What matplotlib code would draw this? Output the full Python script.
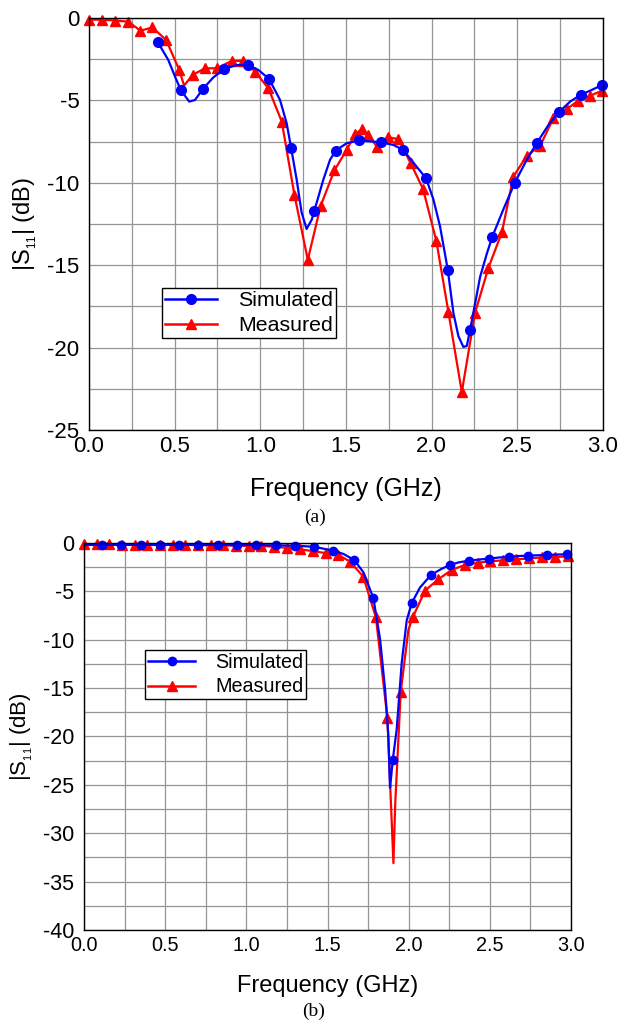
import matplotlib
matplotlib.use("Agg")
import matplotlib.pyplot as plt
from matplotlib.lines import Line2D
from matplotlib.ticker import MultipleLocator

plt.rcParams['font.family'] = ['Liberation Sans', 'DejaVu Sans']
plt.rcParams['mathtext.fontset'] = 'custom'
plt.rcParams['mathtext.rm'] = 'Liberation Sans'
plt.rcParams['mathtext.it'] = 'Liberation Sans'

# ---- panel (a) data ----
a_sim_f = [0.40, 0.463, 0.502, 0.535, 0.585, 0.619, 0.665, 0.726, 0.79, 0.862, 0.926,
           0.988, 1.05, 1.115, 1.154, 1.18, 1.212, 1.241, 1.27, 1.30, 1.315, 1.368,
           1.407, 1.44, 1.504, 1.576, 1.706, 1.776, 1.833, 1.903, 1.967, 2.01, 2.049,
           2.094, 2.127, 2.156, 2.185, 2.205, 2.224, 2.283, 2.322, 2.354, 2.419, 2.485,
           2.555, 2.613, 2.681, 2.744, 2.808, 2.872, 2.935, 2.995]
a_sim_db = [-1.43, -2.55, -3.55, -4.36, -5.07, -4.97, -4.3, -3.6, -3.09, -2.85, -2.85,
            -3.15, -3.68, -4.97, -6.4, -7.9, -9.8, -11.8, -12.8, -12.24, -11.7, -9.8,
            -8.6, -8.04, -7.6, -7.42, -7.54, -7.7, -8.0, -8.9, -9.72, -11.0, -12.65,
            -15.27, -17.9, -19.3, -19.96, -19.9, -18.95, -15.7, -14.3, -13.27, -11.6, -10.0,
            -8.6, -7.6, -6.5, -5.7, -5.07, -4.65, -4.36, -4.06]
a_sim_mk_f = [0.40, 0.535, 0.665, 0.79, 0.926, 1.05, 1.18, 1.315, 1.44, 1.576, 1.706,
              1.833, 1.967, 2.094, 2.224, 2.354, 2.485, 2.613, 2.744, 2.872, 2.995]
a_sim_mk_db = [-1.43, -4.36, -4.3, -3.09, -2.85, -3.68, -7.9, -11.7, -8.04, -7.42, -7.54,
               -8.0, -9.72, -15.27, -18.95, -13.27, -10.0, -7.6, -5.7, -4.65, -4.06]

a_mea_f = [0.0, 0.077, 0.154, 0.23, 0.30, 0.37, 0.45, 0.527, 0.555, 0.605, 0.677, 0.745,
           0.833, 0.90, 0.969, 1.047, 1.125, 1.199, 1.277, 1.352, 1.432, 1.504, 1.553,
           1.592, 1.63, 1.68, 1.744, 1.806, 1.877, 1.95, 2.028, 2.098, 2.176, 2.253,
           2.331, 2.41, 2.477, 2.555, 2.633, 2.71, 2.788, 2.856, 2.925, 2.993]
a_mea_db = [-0.10, -0.10, -0.15, -0.22, -0.77, -0.57, -1.33, -3.15, -4.1, -3.45, -3.05, -3.05,
            -2.6, -2.6, -3.25, -4.26, -6.28, -10.73, -14.67, -11.4, -9.25, -8.0, -7.05,
            -6.75, -7.1, -7.8, -7.23, -7.35, -8.8, -10.38, -13.56, -17.86, -22.7, -17.9,
            -15.17, -13.0, -9.62, -8.36, -7.76, -6.08, -5.53, -5.01, -4.71, -4.42]
a_mea_mk_skip = [0.555]

# ---- panel (b) data ----
b_sim_f = [0.0, 0.11, 0.229, 0.348, 0.467, 0.586, 0.705, 0.824, 0.943, 1.062, 1.181,
           1.30, 1.419, 1.536, 1.60, 1.664, 1.72, 1.783, 1.824, 1.855, 1.875, 1.885,
           1.893, 1.902, 1.926, 1.957, 1.988, 2.019, 2.07, 2.138, 2.20, 2.255, 2.31,
           2.374, 2.43, 2.495, 2.56, 2.619, 2.68, 2.738, 2.80, 2.855, 2.91, 2.974, 3.0]
b_sim_db = [-0.2, -0.2, -0.2, -0.2, -0.2, -0.2, -0.2, -0.2, -0.22, -0.22, -0.25,
            -0.28, -0.4, -0.8, -1.15, -1.76, -3.0, -5.72, -10.0, -15.2, -20.0, -25.3,
            -24.0, -22.4, -19.3, -12.4, -8.0, -6.2, -4.6, -3.3, -2.7, -2.27, -2.0,
            -1.83, -1.72, -1.62, -1.5, -1.41, -1.35, -1.31, -1.27, -1.24, -1.2, -1.17, -1.16]
b_sim_mk_f = [0.11, 0.229, 0.348, 0.467, 0.586, 0.705, 0.824, 0.943, 1.062, 1.181, 1.30,
              1.419, 1.536, 1.664, 1.783, 1.902, 2.019, 2.138, 2.255, 2.374, 2.495, 2.619,
              2.738, 2.855, 2.974]
b_sim_mk_db = [-0.2, -0.2, -0.2, -0.2, -0.2, -0.2, -0.2, -0.22, -0.22, -0.25, -0.28,
               -0.4, -0.8, -1.76, -5.72, -22.4, -6.2, -3.3, -2.27, -1.83, -1.62, -1.41,
               -1.31, -1.24, -1.17]

b_mea_f = [0.0, 0.078, 0.156, 0.234, 0.312, 0.39, 0.468, 0.546, 0.624, 0.702, 0.78,
           0.858, 0.936, 1.014, 1.092, 1.17, 1.25, 1.33, 1.41, 1.49, 1.567, 1.639, 1.72,
           1.798, 1.869, 1.906, 1.917, 1.951, 1.998, 2.025, 2.101, 2.183, 2.265, 2.347,
           2.425, 2.50, 2.58, 2.66, 2.74, 2.82, 2.90, 2.98]
b_mea_db = [-0.15, -0.15, -0.15, -0.18, -0.18, -0.18, -0.2, -0.2, -0.2, -0.22, -0.25,
            -0.25, -0.28, -0.3, -0.3, -0.4, -0.5, -0.65, -0.85, -1.05, -1.24, -1.93, -3.48,
            -7.68, -18.1, -33.1, -27.0, -15.4, -9.0, -7.68, -4.93, -3.75, -2.79, -2.27,
            -2.05, -1.9, -1.8, -1.7, -1.6, -1.5, -1.45, -1.4]
b_mea_mk_skip = [1.906, 1.917, 1.998]

BLUE = '#0000ff'
RED = '#ff0000'
GRID = '#959595'

fig = plt.figure(figsize=(6.21, 10.25), dpi=100)


def style_axes(ax, ymin, xfs, yfs, lfs):
    ax.set_xlim(0, 3.0)
    ax.set_ylim(ymin, 0)
    ax.xaxis.set_major_locator(MultipleLocator(0.5))
    ax.xaxis.set_minor_locator(MultipleLocator(0.25))
    ax.yaxis.set_major_locator(MultipleLocator(5))
    ax.yaxis.set_minor_locator(MultipleLocator(2.5))
    ax.xaxis.set_major_formatter(plt.FuncFormatter(lambda v, p: '%.1f' % v))
    ax.yaxis.set_major_formatter(plt.FuncFormatter(lambda v, p: '%d' % round(v)))
    ax.grid(True, which='both', color=GRID, linewidth=0.9)
    ax.set_axisbelow(True)
    ax.tick_params(which='both', direction='in', length=0)
    ax.tick_params(axis='x', labelsize=xfs, pad=4.5)
    ax.tick_params(axis='y', labelsize=yfs, pad=7)
    for s in ax.spines.values():
        s.set_color('black')
        s.set_linewidth(1.0)
    ax.set_xlabel('Frequency (GHz)', fontsize=lfs, labelpad=14)
    ax.set_ylabel('|S$_{_{11}}$| (dB)', fontsize=lfs - 1, labelpad=6)


def add_legend(ax, anchor, fs, ms_c, ms_t):
    h = [Line2D([], [], color=BLUE, lw=1.8, marker='o', markersize=ms_c),
         Line2D([], [], color=RED, lw=1.8, marker='^', markersize=ms_t)]
    leg = ax.legend(h, ['Simulated', 'Measured'], loc='upper left', bbox_to_anchor=anchor,
                    borderaxespad=0, borderpad=0.15, handlelength=2.4, handletextpad=1.0,
                    labelspacing=0.28, fontsize=fs, fancybox=False, framealpha=1,
                    edgecolor='black')
    leg.get_frame().set_linewidth(1.0)


def plot_panel(ax, sf, sdb, smf, smdb, mf, mdb, skip, ms_c, ms_t):
    ax.plot(mf, mdb, color=RED, lw=1.6)
    keep = [i for i, f in enumerate(mf) if f not in skip]
    ax.plot([mf[i] for i in keep], [mdb[i] for i in keep], ls='none', marker='^',
            color=RED, markersize=ms_t, clip_on=False)
    ax.plot(sf, sdb, color=BLUE, lw=1.6)
    ax.plot(smf, smdb, ls='none', marker='o', color=BLUE, markersize=ms_c, clip_on=False)


# ---- (a) ----
ax1 = fig.add_axes([0.1433, 0.5805, 0.8277, 0.4019])
plot_panel(ax1, a_sim_f, a_sim_db, a_sim_mk_f, a_sim_mk_db, a_mea_f, a_mea_db,
           a_mea_mk_skip, 7, 7.5)
style_axes(ax1, -25, 16, 16, 18)
add_legend(ax1, (0.142, 0.345), 15.4, 7, 7.5)
fig.text(315 / 621, 1 - 517 / 1025, '(a)', ha='center', va='center', fontsize=14,
         family='Liberation Serif')

# ---- (b) ----
ax2 = fig.add_axes([0.1353, 0.0927, 0.7842, 0.3776])
plot_panel(ax2, b_sim_f, b_sim_db, b_sim_mk_f, b_sim_mk_db, b_mea_f, b_mea_db,
           b_mea_mk_skip, 6, 6.5)
style_axes(ax2, -40, 14.3, 15.5, 17)
add_legend(ax2, (0.125, 0.7235), 14.2, 6, 6.5)
fig.text(314 / 621, 1 - 1011 / 1025, '(b)', ha='center', va='center', fontsize=14,
         family='Liberation Serif')

fig.savefig('out.png', dpi=100)
